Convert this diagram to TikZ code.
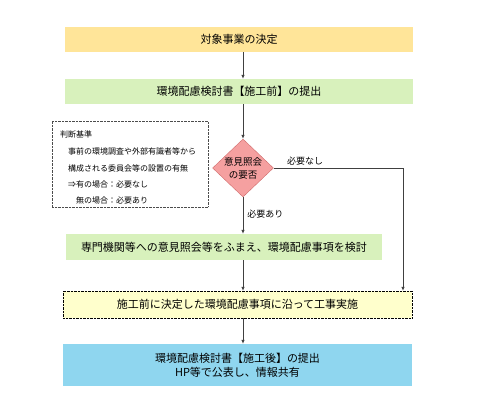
\documentclass[tikz,border=0pt]{standalone}
\usepackage{fontspec}
\setmainfont{Noto Sans CJK JP}
\usepackage{tikz}
\usetikzlibrary{positioning, calc, arrows.meta, shapes.geometric}
\definecolor{stepyellow}{HTML}{FFE599}
\definecolor{stepgreen}{HTML}{D8F1BC}
\definecolor{steppale}{HTML}{FFFFCC}
\definecolor{stepblue}{HTML}{8FD6EF}
\definecolor{decfill}{HTML}{F5A0A0}
\definecolor{decline}{HTML}{D06A6A}
\definecolor{wire}{HTML}{404040}
\tikzset{
  stepbox/.style={rectangle, inner sep=0pt, font=\fontsize{11}{14}\selectfont, align=center},
  decbox/.style={diamond, draw=decline, fill=decfill, inner sep=0pt, aspect=1.05,
    font=\fontsize{9.5}{13}\selectfont, align=center},
  notebox/.style={rectangle, draw=black!70, densely dotted, inner sep=0pt},
  notetext/.style={anchor=west, inner sep=0pt, font=\fontsize{8}{10}\selectfont},
  lbl/.style={inner sep=0pt, font=\fontsize{9}{11}\selectfont},
  arr/.style={draw=wire, line width=0.7pt, -{Latex[length=4pt,width=3.5pt]}}
}
\begin{document}
\begin{tikzpicture}[x=1pt,y=-1pt]
            \useasboundingbox (0,0) rectangle (480,410);
            
            % Start
            \node[stepbox, fill=stepyellow, minimum width=348, minimum height=25] (start) at (239,39.5) {対象事業の決定};
            
            % Submission before construction
            \node[stepbox, fill=stepgreen, minimum width=348, minimum height=25] (pre) at (239,91.5) {環境配慮検討書【施工前】の提出};
            
            % Decision
            \node[decbox] (dec) at (243,168) {意見照会\\の要否};
            
            % Criteria note
            \node[notebox, minimum width=156, minimum height=86] (note) at (130,164) {};
            \node[notetext] (n1) at (60,134) {判断基準};
            \node[notetext] (n2) at (68,151) {事前の環境調査や外部有識者等から};
            \node[notetext] (n3) at (68,168) {構成される委員会等の設置の有無};
            \node[notetext] (n4) at (68,184) {⇒有の場合：必要なし};
            \node[notetext] (n5) at (76,200) {無の場合：必要あり};
            
            % Consultation
            \node[stepbox, fill=stepgreen, minimum width=316, minimum height=26] (cons) at (224,247) {専門機関等への意見照会等をふまえ、環境配慮事項を検討};
            
            % Construction
            \node[stepbox, fill=steppale, draw=black, densely dotted, minimum width=349, minimum height=27] (work) at (237.5,304.5) {施工前に決定した環境配慮事項に沿って工事実施};
            
            % Submission after construction
            \node[stepbox, fill=stepblue, minimum width=349, minimum height=42] (post) at (237.5,365) {環境配慮検討書【施工後】の提出\\HP等で公表し、情報共有};
            
            % Arrows
            \draw[arr] (start.south -| dec) -- (pre.north -| dec);
            \draw[arr] (pre.south -| dec) -- (dec.north);
            \draw[arr] (dec.south) -- (cons.north -| dec) node[lbl, pos=0.45, right=4pt] (yes) {必要あり};
            \draw[arr] (cons.south -| dec) -- (work.north -| dec);
            \draw[arr] (work.south -| dec) -- (post.north -| dec);
            
            % Bypass
            \coordinate (turn) at (403,168);
            \draw[arr] (dec.east) -- (turn) -- (turn |- work.north);
            \node[lbl] (no) at (305,161) {必要なし};
\end{tikzpicture}
\end{document}
